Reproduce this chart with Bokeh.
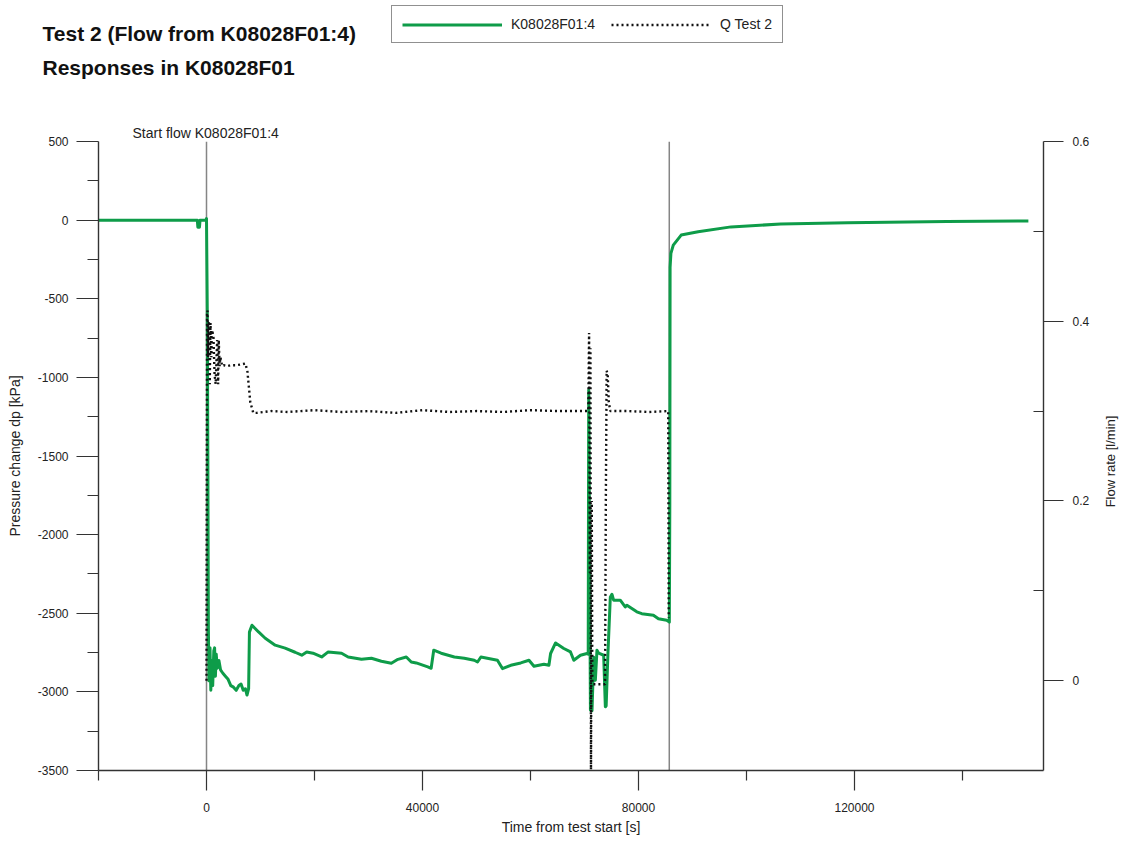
import math
from bokeh.plotting import figure
from bokeh.layouts import column, row
from bokeh.models import (Range1d, LinearAxis, FixedTicker, Span, Label,
                          Legend, LegendItem, Title)
from bokeh.embed import file_html
from bokeh.resources import INLINE

# ---- pressure response in K08028F01:4 (time [s], dp [kPa]) ----
time_dp = [-20000, -1700, -1600, -1300, -1200, -100, 0, 150, 250, 350, 450,
           650, 800, 1000, 1150, 1350, 1500, 1650, 1800, 2000, 2300, 2600,
           3000, 3500, 4000, 4500, 5000, 5500, 6000, 6400, 6800, 7200, 7500,
           7800, 7950, 8420, 9640, 10880, 12720, 14560, 16400, 17640, 18560,
           19720, 21330, 22540, 25010, 26230, 28700, 30540, 32390, 34230,
           35450, 37000, 37920, 38840, 40980, 41600, 42080, 43450, 45900,
           47740, 49580, 50190, 50820, 53880, 54800, 56350, 58190, 59720,
           60640, 62490, 63410, 63720, 64640, 66170, 67410, 68020, 69250,
           70470, 70690, 70780, 71100, 71300, 71390, 71700, 72010, 72310,
           72620, 73550, 73860, 74010, 74340, 74780, 75080, 75390, 76620,
           77540, 77850, 79690, 80610, 82760, 83690, 85220, 85710, 85800,
           85850, 86000, 86440, 87900, 91040, 97130, 106340, 118700, 137100,
           152200]
dp_kpa = [0, 0, -45, -45, 0, 0, 10, -600, -1500, -2600, -2930,
          -2720, -2990, -2800, -2960, -2740, -2720, -2900, -2760, -2850, -2800, -2860,
          -2880, -2900, -2920, -2960, -2970, -2990, -2960, -2950, -2990, -2980, -3020,
          -2980, -2620, -2576, -2619, -2659, -2703, -2722, -2748, -2767, -2746,
          -2754, -2778, -2746, -2754, -2778, -2793, -2786, -2805, -2818,
          -2793, -2778, -2810, -2816, -2841, -2850, -2735, -2754, -2778,
          -2786, -2799, -2810, -2778, -2799, -2852, -2831, -2816, -2799,
          -2837, -2824, -2831, -2756, -2689, -2724, -2746, -2799, -2767,
          -2756, -2760, -1081, -3117, -3100, -3120, -2780, -2926, -2735,
          -2754, -2767, -3095, -3090, -2754, -2398, -2379, -2417, -2417,
          -2460, -2449, -2491, -2503, -2513, -2535, -2545, -2556, -1800,
          -300, -212, -159, -95, -74, -43, -25, -17, -8,
          -6]

# ---- flow rate Q Test 2 (time [s], Q [l/min]) ----
time_q = [0, 100, 184, 300, 450, 600, 737, 900, 1050, 1290, 1500, 1700,
          1970, 2150, 2270, 2420, 2580, 2900, 3190, 3800, 4420, 5500, 6500,
          7190, 7560, 8110, 8660, 9340, 12000, 15000, 20000, 25000, 30000,
          35000, 40000, 45000, 50000, 55000, 60000, 65000, 70500, 70700,
          70850, 71000, 71100, 71200, 71350, 71450, 71550, 73800, 73950,
          74100, 74300, 74500, 74780, 78000, 82000, 85500, 85600]
q_lmin = [0.0, 0.41, 0.412, 0.36, 0.40, 0.33, 0.398, 0.36, 0.39, 0.382, 0.34, 0.33,
          0.379, 0.33, 0.379, 0.35, 0.36, 0.35, 0.351, 0.35, 0.351, 0.351, 0.352,
          0.353, 0.345, 0.31, 0.298, 0.298, 0.300, 0.299, 0.301, 0.299, 0.300,
          0.298, 0.301, 0.299, 0.300, 0.299, 0.301, 0.300, 0.300, 0.300,
          0.387, 0.12, 0.37, -0.099, 0.20, 0.0, -0.004, -0.004, 0.20,
          0.345, 0.34, 0.31, 0.300, 0.300, 0.299, 0.300, 0.07]

# ---- axes ----
x_major = [0, 40000, 80000, 120000]
x_minor = [-20000, 20000, 60000, 100000, 140000]
x_labels = ["0", "40000", "80000", "120000"]
dp_major = [-3500, -3000, -2500, -2000, -1500, -1000, -500, 0, 500]
dp_minor = [-3250, -2750, -2250, -1750, -1250, -750, -250, 250]
dp_labels = ["-3500", "-3000", "-2500", "-2000", "-1500", "-1000", "-500", "0", "500"]
q_major = [0, 0.2, 0.4, 0.6]
q_minor = [0.1, 0.3, 0.5]
q_labels = ["0", "0.2", "0.4", "0.6"]

# vertical markers: start and stop of flow
flow_start = 0
flow_stop = 85700

GREEN = "#0e9c49"
QCOL = "#111111"
FONT = "Liberation Sans"
TXT = "#222222"
AXC = "#333333"
HEAD_H = 117          # heading strip height
SIDE_W = 30           # strip on the right holding the flow-axis title
MAIN_H = 841 - HEAD_H
MAIN_W = 1124 - SIDE_W


def bare_figure(w, h):
    f = figure(width=w, height=h, output_backend="svg", toolbar_location=None,
               x_axis_type=None, y_axis_type=None,
               x_range=Range1d(0, 1), y_range=Range1d(0, 1),
               min_border=0, min_border_left=0, min_border_right=0,
               min_border_top=0, min_border_bottom=0)
    f.outline_line_color = None
    f.grid.visible = False
    if "frame_align" in f.properties():
        f.frame_align = False
    return f


# ---------------- heading strip: title and legend ----------------
head = bare_figure(1124, HEAD_H)
for txt, yb in (("Test 2 (Flow from K08028F01:4)", HEAD_H - 33),
                ("Responses in K08028F01", HEAD_H - 67)):
    head.add_layout(Label(x=42, y=yb, x_units="screen", y_units="screen",
                          text=txt, text_font=FONT, text_font_size="21px",
                          text_font_style="bold", text_color="#111111",
                          text_baseline="alphabetic"))

# legend keys: empty-valued lines carrying the same styles as the series below
nan = float("nan")
key_dp = head.line(x=[nan], y=[nan], line_color=GREEN, line_width=3)
key_q = head.line(x=[nan], y=[nan], line_color=QCOL, line_width=2.4,
                  line_dash="2 3")
legend = Legend(items=[LegendItem(label="K08028F01:4", renderers=[key_dp]),
                       LegendItem(label="Q Test 2", renderers=[key_q])],
                orientation="horizontal", location=(391, HEAD_H - 43),
                padding=10, margin=0, spacing=16, label_standoff=9,
                glyph_width=100, glyph_height=13, label_height=13,
                border_line_color="#222222", border_line_width=1.2,
                background_fill_alpha=1, label_text_font=FONT,
                label_text_font_size="14px", label_text_color=TXT,
                label_text_baseline="middle")
head.add_layout(legend)

# ---------------- main chart ----------------
p = figure(width=MAIN_W, height=MAIN_H, output_backend="svg",
           toolbar_location=None,
           x_range=Range1d(-20000, 155000), y_range=Range1d(-3500, 500),
           min_border_left=98, min_border_right=MAIN_W - 1043,
           min_border_top=24, min_border_bottom=71)
p.outline_line_color = None
p.grid.visible = False
p.extra_y_ranges = {"flow": Range1d(-0.1, 0.6)}

for loc in (flow_start, flow_stop):
    p.add_layout(Span(location=loc, dimension="height", line_color="#858585",
                      line_width=1.5, level="underlay"))

g = p.line(time_dp, dp_kpa, line_color=GREEN, line_width=3, line_join="round")
q = p.line(time_q, q_lmin, y_range_name="flow", line_color=QCOL,
           line_width=2.4, line_dash="2 3")

# caption of the start marker, just above the frame
p.add_layout(Title(text="Start flow K08028F01:4", align="left", offset=34,
                   standoff=1, text_font=FONT, text_font_size="14px",
                   text_font_style="normal", text_color=TXT), "above")

# bottom axis
xa = p.xaxis[0]
xa.ticker = FixedTicker(ticks=x_major, minor_ticks=x_minor)
xa.major_label_overrides = {t: s for t, s in zip(x_major, x_labels)}
xa.axis_label = "Time from test start [s]"
xa.major_tick_out, xa.major_tick_in = 20, 0
xa.minor_tick_out, xa.minor_tick_in = 10, 0
xa.major_label_standoff = 12
xa.axis_label_standoff = 4

# left axis
ya = p.yaxis[0]
ya.ticker = FixedTicker(ticks=dp_major, minor_ticks=dp_minor)
ya.major_label_overrides = {t: s for t, s in zip(dp_major, dp_labels)}
ya.axis_label = "Pressure change dp [kPa]"
ya.major_tick_out, ya.major_tick_in = 22, 0
ya.minor_tick_out, ya.minor_tick_in = 11, 0
ya.major_label_standoff = 8
ya.axis_label_standoff = 12

# right axis for flow rate (its title sits in the side strip)
ra = LinearAxis(y_range_name="flow")
ra.ticker = FixedTicker(ticks=q_major, minor_ticks=q_minor)
ra.major_label_overrides = {t: s for t, s in zip(q_major, q_labels)}
ra.major_tick_out, ra.major_tick_in = 20, 0
ra.minor_tick_out, ra.minor_tick_in = 0, 10
ra.major_label_standoff = 9
p.add_layout(ra, "right")

for ax in (xa, ya, ra):
    ax.axis_line_color = AXC
    ax.axis_line_width = 1.4
    ax.major_tick_line_color = AXC
    ax.minor_tick_line_color = AXC
    ax.major_tick_line_width = 1.2
    ax.minor_tick_line_width = 1.2
    ax.major_label_text_font = FONT
    ax.major_label_text_font_size = "12px"
    ax.major_label_text_color = TXT
    ax.axis_label_text_font = FONT
    ax.axis_label_text_font_size = "14px"
    ax.axis_label_text_font_style = "normal"
    ax.axis_label_text_color = TXT

# ---------------- side strip: flow-axis title, reading bottom-to-top -------
side = bare_figure(SIDE_W, MAIN_H)
side.add_layout(Label(x=1110 - MAIN_W, y=MAIN_H + HEAD_H - 461,
                      x_units="screen", y_units="screen",
                      text="Flow rate [l/min]", angle=math.pi / 2,
                      text_align="center", text_baseline="middle",
                      text_font=FONT, text_font_size="13px", text_color=TXT))

layout = column(head, row(p, side, spacing=0), spacing=0)
open("out.html", "w").write(file_html(layout, INLINE))
